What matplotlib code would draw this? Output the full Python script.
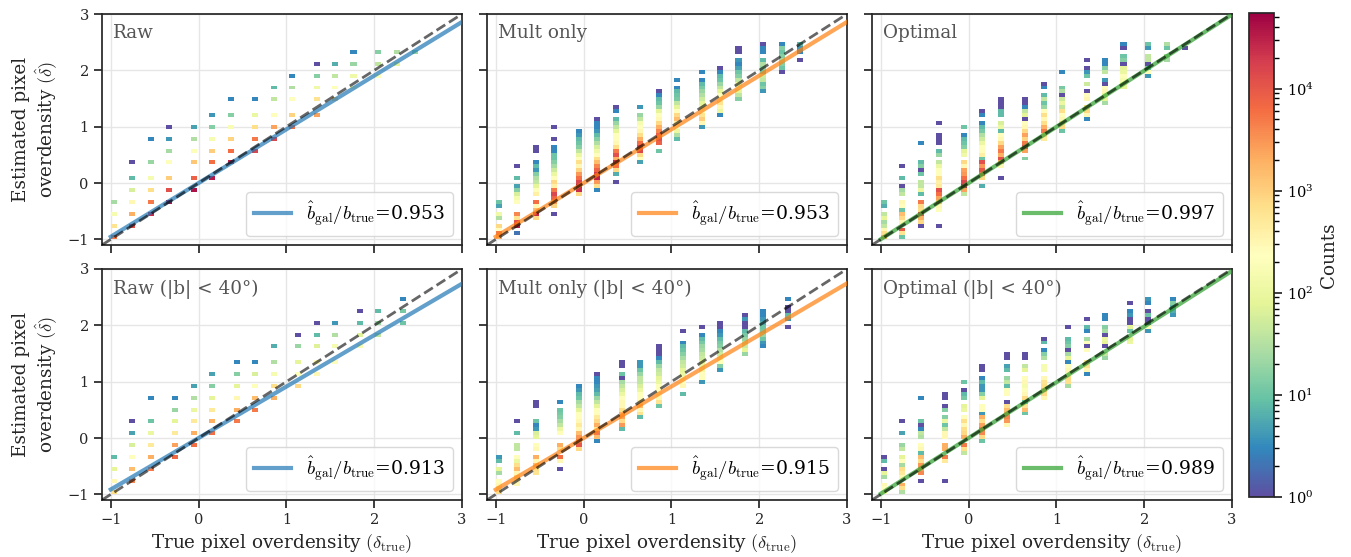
import numpy as np
import matplotlib
matplotlib.use('Agg')
import matplotlib.pyplot as plt
from matplotlib.colors import LogNorm

plt.rcParams['font.family'] = 'serif'
plt.rcParams['font.serif'] = ['DejaVu Serif']
plt.rcParams['mathtext.fontset'] = 'cm'

################### DATA ##################
# Raw panels: per column (true delta, estimated delta of each filled cell, counts)
RAW_TOP = [
    (-0.965, [-0.335, -0.545, -0.755, -0.965], [25, 150, 600, 5000]),
    (-0.755, [0.365, 0.085, -0.125, -0.335, -0.545, -0.755], [1, 8, 60, 300, 2000, 12000]),
    (-0.545, [0.785, 0.365, 0.085, -0.125, -0.335, -0.545], [3, 20, 150, 700, 5000, 25000]),
    (-0.335, [0.995, 0.785, 0.575, 0.365, 0.085, -0.125, -0.335], [1, 4, 25, 200, 1000, 12000, 40000]),
    (-0.055, [0.995, 0.785, 0.575, 0.365, 0.085, -0.125], [5, 30, 200, 1200, 8000, 40000]),
    (0.155, [1.205, 0.995, 0.785, 0.575, 0.365, 0.085], [4, 15, 150, 1000, 6000, 35000]),
    (0.365, [1.485, 1.205, 0.995, 0.785, 0.575, 0.365], [3, 15, 180, 900, 6000, 30000]),
    (0.645, [1.485, 1.205, 0.995, 0.785, 0.575], [3, 100, 700, 5000, 15000]),
    (0.855, [1.695, 1.485, 1.205, 0.995, 0.785], [8, 40, 250, 2500, 15000]),
    (1.065, [1.905, 1.695, 1.485, 1.205, 0.995], [3, 30, 200, 900, 6000]),
    (1.345, [2.115, 1.905, 1.695, 1.485, 1.205], [1, 15, 120, 600, 2500]),
    (1.555, [2.115, 1.905, 1.695, 1.485], [6, 40, 200, 900]),
    (1.765, [2.325, 2.115, 1.905, 1.695], [3, 20, 120, 250]),
    (2.045, [2.325, 2.115, 1.905], [15, 40, 200]),
    (2.255, [2.325, 2.115], [30, 80]),
    (2.465, [2.325], [20]),
]
RAW_BOT = [
    (-0.965, [-0.335, -0.545, -0.755, -0.965], [8, 80, 300, 700]),
    (-0.755, [0.295, 0.085, -0.125, -0.335, -0.545, -0.755], [1, 5, 60, 250, 1500, 4000]),
    (-0.545, [0.715, 0.295, 0.085, -0.125, -0.335, -0.545], [3, 10, 100, 500, 2000, 5000]),
    (-0.265, [0.715, 0.505, 0.295, 0.085, -0.125, -0.335], [3, 20, 80, 500, 2500, 7000]),
    (-0.055, [0.925, 0.715, 0.505, 0.295, 0.085, -0.125], [5, 30, 100, 500, 2000, 6000]),
    (0.155, [1.135, 0.925, 0.715, 0.505, 0.295, 0.085], [5, 15, 80, 500, 2000, 6000]),
    (0.435, [1.345, 1.135, 0.925, 0.715, 0.505, 0.295], [3, 15, 80, 300, 2000, 5000]),
    (0.645, [1.345, 1.135, 0.925, 0.715, 0.505], [3, 60, 200, 1500, 5000]),
    (0.855, [1.625, 1.345, 1.135, 0.925, 0.715], [6, 30, 150, 700, 2000]),
    (1.135, [1.835, 1.625, 1.345, 1.135, 0.925], [1, 20, 80, 250, 800]),
    (1.345, [2.045, 1.835, 1.625, 1.345, 1.135], [1, 8, 70, 200, 300]),
    (1.555, [2.045, 1.835, 1.625, 1.345], [4, 30, 150, 250]),
    (1.835, [2.255, 2.045, 1.835, 1.625], [1, 8, 70, 150]),
    (2.045, [2.255, 2.045, 1.835], [8, 20, 40]),
    (2.325, [2.465, 2.255, 2.045], [3, 12, 10]),
]

# Weighted panels: per column (true delta, estimated delta of top cell,
# counts of consecutive cells going downwards, 0 = empty)
MULT_TOP = [
    (-0.965, -0.335, [10, 5, 0, 120, 30, 0, 800, 250, 5000, 2000]),
    (-0.755, 0.295, [1, 0, 0, 8, 0, 5, 15, 60, 150, 250, 0, 0, 4000, 600, 12000, 30000, 0, 2]),
    (-0.545, 0.645, [1, 1, 0, 0, 3, 8, 4, 15, 30, 40, 80, 200, 400, 0, 6000, 300, 1500, 25000, 800]),
    (-0.335, 0.995, [1, 0, 0, 1, 0, 3, 3, 10, 10, 15, 25, 50, 100, 250, 800, 400, 5000, 15000, 8000, 3000, 900, 0, 1]),
    (-0.055, 0.925, [3, 4, 8, 10, 15, 40, 100, 200, 700, 300, 900, 3000, 6000, 15000, 30000, 25000, 800]),
    (0.155, 1.135, [1, 3, 3, 4, 8, 15, 30, 60, 120, 250, 700, 1500, 4000, 8000, 20000, 30000, 3000, 700, 3]),
    (0.365, 1.345, [1, 3, 0, 8, 20, 40, 80, 200, 250, 300, 700, 5000, 12000, 2000, 25000, 6000, 800, 6, 0, 1]),
    (0.645, 1.345, [4, 0, 20, 40, 150, 250, 300, 700, 2000, 6000, 15000, 15000, 800, 200, 5]),
    (0.855, 1.625, [1, 3, 8, 10, 20, 80, 200, 300, 800, 2000, 4000, 8000, 12000, 8000, 0, 10]),
    (1.065, 1.835, [3, 0, 3, 8, 10, 12, 40, 80, 250, 800, 1500, 400, 250, 100, 30, 8]),
    (1.345, 1.975, [3, 0, 3, 8, 12, 20, 30, 50, 80, 120, 250, 600, 1000, 300, 4]),
    (1.555, 2.045, [1, 3, 8, 10, 20, 40, 80, 200, 250, 600, 300, 100, 3]),
    (1.765, 2.395, [1, 1, 0, 4, 3, 5, 10, 15, 40, 100, 200, 80, 40, 15]),
    (2.045, 2.465, [1, 3, 3, 0, 8, 30, 20, 10, 50, 40, 10, 15, 4]),
    (2.255, 2.465, [3, 15, 10, 15, 25, 15, 10, 1]),
    (2.465, 2.465, [8, 4, 3, 0, 1]),
]
OPT_TOP = [
    (-0.965, -0.335, [10, 6, 0, 40, 80, 25, 40, 300, 700, 2000]),
    (-0.755, 0.295, [1, 0, 0, 8, 0, 1, 25, 40, 0, 300, 250, 10, 1500, 800, 300, 0, 10000, 600, 10]),
    (-0.545, 0.715, [3, 0, 0, 0, 0, 8, 15, 1, 10, 0, 40, 40, 100, 8, 0, 5000, 800, 700, 12000, 2000, 800, 1]),
    (-0.335, 1.065, [1, 0, 0, 1, 1, 1, 0, 8, 20, 0, 40, 100, 200, 250, 700, 400, 500, 12000, 6000, 2500,
                     1500, 300, 200, 0, 0, 0, 1]),
    (-0.055, 0.995, [10, 0, 3, 8, 10, 15, 80, 120, 0, 800, 300, 2500, 3000, 6000, 15000, 30000, 2500, 40]),
    (0.155, 1.275, [1, 3, 0, 3, 8, 12, 30, 50, 100, 200, 250, 400, 10, 12000, 3000, 10000, 5000, 800, 0, 6]),
    (0.365, 1.485, [1, 1, 1, 8, 8, 0, 60, 100, 8, 250, 300, 800, 2500, 5000, 2000, 12000, 2500, 300, 0, 0, 1]),
    (0.645, 1.485, [1, 1, 3, 40, 80, 1, 250, 300, 800, 2500, 900, 5000, 12000, 2500, 0, 15]),
    (0.855, 1.765, [1, 3, 0, 8, 40, 10, 20, 250, 700, 300, 700, 2000, 5000, 800, 500]),
    (1.065, 1.975, [3, 0, 0, 0, 12, 30, 1, 50, 100, 40, 700, 250, 300, 600, 800, 10]),
    (1.345, 2.185, [1, 0, 1, 4, 10, 0, 50, 0, 1, 250, 300, 0, 800, 800, 300, 3]),
    (1.555, 2.185, [3, 3, 15, 40, 0, 4, 1, 250, 300, 100, 80, 25]),
    (1.765, 2.465, [3, 1, 0, 10, 15, 1, 80, 100, 200, 150, 100, 80]),
    (2.045, 2.465, [10, 4, 0, 40, 40, 1, 10, 200, 4]),
    (2.255, 2.465, [30, 10, 0, 30, 25]),
    (2.465, 2.395, [1]),
]
MULT_BOT = [
    (-0.965, -0.335, [4, 8, 0, 80, 25, 0, 250, 300, 600, 800]),
    (-0.755, 0.295, [1, 0, 0, 8, 0, 0, 40, 40, 0, 250, 100, 700, 1500, 300, 700, 300, 300]),
    (-0.545, 0.645, [1, 1, 0, 0, 0, 10, 3, 4, 60, 80, 0, 250, 300, 0, 2000, 300, 1500, 700, 600]),
    (-0.265, 0.645, [3, 0, 10, 12, 15, 25, 40, 100, 250, 0, 0, 2000, 800, 0, 6000, 300, 0, 1]),
    (-0.055, 0.925, [3, 4, 8, 10, 25, 40, 80, 200, 250, 300, 500, 300, 1500, 3000, 5000, 10000, 800]),
    (0.155, 1.135, [1, 3, 3, 4, 5, 8, 20, 40, 80, 200, 250, 500, 800, 2000, 600, 5000, 1500, 3]),
    (0.435, 1.345, [1, 1, 0, 10, 1, 25, 40, 60, 100, 250, 300, 300, 700, 2000, 2500, 800, 3000, 8]),
    (0.645, 1.345, [4, 4, 10, 20, 40, 40, 60, 100, 200, 250, 400, 1500, 300, 600, 8]),
    (0.855, 1.625, [1, 1, 1, 3, 8, 20, 40, 50, 80, 100, 200, 250, 300, 300, 600, 10]),
    (1.135, 1.905, [1, 0, 0, 3, 8, 10, 15, 25, 40, 50, 80, 100, 200, 250, 300, 0, 8]),
    (1.345, 1.975, [1, 0, 3, 8, 12, 20, 25, 40, 50, 80, 100, 120, 250, 200, 4]),
    (1.555, 2.045, [1, 1, 3, 4, 8, 12, 15, 30, 50, 100, 200, 15, 4]),
    (1.835, 2.185, [1, 4, 1, 1, 8, 12, 20, 40, 50, 80, 20]),
    (2.045, 2.255, [3, 3, 4, 6, 10, 12, 20, 10, 4, 3]),
    (2.325, 2.465, [3, 0, 1, 1, 8, 4, 0, 1]),
]
OPT_BOT = [
    (-0.965, -0.335, [1, 8, 0, 1, 80, 25, 0, 300, 250, 300]),
    (-0.755, 0.295, [1, 0, 0, 5, 0, 0, 20, 40, 0, 80, 250, 25, 700, 500, 300, 0, 2000, 700, 30]),
    (-0.545, 0.715, [3, 0, 0, 0, 0, 0, 10, 1, 3, 40, 30, 0, 250, 300, 8, 1500, 700, 3000, 2500, 4000, 0, 1]),
    (-0.265, 0.785, [1, 1, 0, 1, 15, 0, 15, 100, 10, 40, 300, 300, 0, 2000, 2000, 0, 5000, 500,
                     0, 0, 0, 0, 1]),
    (-0.055, 0.995, [10, 0, 1, 8, 12, 0, 80, 100, 0, 250, 700, 300, 700, 800, 2000, 0, 5000, 700, 40]),
    (0.155, 1.275, [1, 1, 0, 3, 8, 4, 4, 15, 80, 0, 250, 250, 4, 2000, 700, 2500, 5000, 4000, 800, 10]),
    (0.435, 1.485, [1, 1, 0, 5, 8, 0, 20, 40, 8, 200, 250, 0, 1, 700, 1500, 2000, 4000, 3000, 300]),
    (0.645, 1.485, [1, 1, 0, 40, 80, 0, 250, 300, 150, 200, 300, 800, 10, 600, 1500, 10]),
    (0.855, 1.765, [1, 8, 0, 3, 15, 30, 0, 150, 150, 0, 300, 600, 700, 1500, 800, 300]),
    (1.135, 1.975, [1, 0, 0, 8, 10, 15, 1, 25, 80, 3, 250, 300, 300, 800, 700, 25]),
    (1.345, 2.115, [1, 0, 8, 3, 0, 25, 250, 1, 250, 0, 0, 500, 600, 300, 3]),
    (1.555, 2.185, [3, 3, 0, 15, 25, 1, 100, 80, 1, 0, 40, 20]),
    (1.835, 2.395, [1, 0, 3, 4, 1, 1, 80, 10, 0, 80, 100]),
    (2.045, 2.465, [4, 3, 0, 1, 10, 1, 1, 200, 4]),
    (2.325, 2.465, [3, 15, 8, 6, 4]),
]

TITLES = ['Raw', 'Mult only', 'Optimal']
SUFFIX = [r'', r' (|b| < 40°)']
SLOPES = [[0.953, 0.953, 0.997], [0.913, 0.915, 0.989]]
COLORS = ['tab:blue', 'tab:orange', 'tab:green']

################### histogram settings ##################
BIN_W = 0.07
EDGES = np.linspace(-1.0, 2.5, 51)
NORM = LogNorm(vmin=1, vmax=5.5e4)


def raw_points(cols):
    xs, ys, ws = [], [], []
    for x, yy, cc in cols:
        for y, c in zip(yy, cc):
            xs.append(x)
            ys.append(y)
            ws.append(c)
    return xs, ys, ws


def stacked_points(cols):
    xs, ys, ws = [], [], []
    for x, ytop, cc in cols:
        for i, c in enumerate(cc):
            if c > 0:
                xs.append(x)
                ys.append(ytop - i * BIN_W)
                ws.append(c)
    return xs, ys, ws


panels = [[raw_points(RAW_TOP), stacked_points(MULT_TOP), stacked_points(OPT_TOP)],
          [raw_points(RAW_BOT), stacked_points(MULT_BOT), stacked_points(OPT_BOT)]]

W, H = 1351, 557
fig = plt.figure(figsize=(W / 100, H / 100), dpi=100)

lefts = [102, 487, 872]
tops = [14, 269]
aw, ah = 360, 231

im = None
for r in range(2):
    for c in range(3):
        ax = fig.add_axes([lefts[c] / W, 1 - (tops[r] + ah) / H, aw / W, ah / H])
        xs, ys, ws = panels[r][c]
        h = ax.hist2d(xs, ys, bins=[EDGES, EDGES], weights=ws, norm=NORM,
                      cmap='Spectral_r', cmin=1, zorder=1)
        im = h[3]
        xx = np.linspace(-1.0, 3.0, 50)
        ax.plot(xx, SLOPES[r][c] * xx, color=COLORS[c], alpha=0.7, lw=3, zorder=3,
                label=r'$\hat{b}_{\rm gal}/b_{\rm true}$=' + '%.3f' % SLOPES[r][c])
        ax.plot([-1.1, 3], [-1.1, 3], ls='--', color='k', alpha=0.6, lw=2, zorder=4)
        ax.set_xlim(-1.1, 3)
        ax.set_ylim(-1.1, 3)
        ax.set_xticks([-1, 0, 1, 2, 3])
        ax.set_yticks([-1, 0, 1, 2, 3])
        ax.grid(True, color='#e6e6e6', lw=1, zorder=0)
        ax.set_axisbelow(True)
        for sp in ax.spines.values():
            sp.set_color('#262626')
            sp.set_linewidth(1.25)
        ax.tick_params(direction='out', length=6, width=1.25, color='#262626',
                       labelsize=10.5, labelcolor='#262626')
        ax.text(0.03, 0.955, TITLES[c] + SUFFIX[r], transform=ax.transAxes,
                ha='left', va='top', fontsize=13.2, color='#555555')
        ax.legend(loc='lower right', fontsize=13.5, handlelength=2.0,
                  framealpha=0.8, edgecolor='#d0d0d0', fancybox=True)
        if r == 0:
            ax.tick_params(labelbottom=False)
        else:
            ax.set_xlabel(r'True pixel overdensity $(\delta_{\rm true})$', fontsize=13.2,
                          color='#262626', labelpad=4)
        if c > 0:
            ax.tick_params(labelleft=False)
        else:
            ax.set_ylabel('Estimated pixel\noverdensity $(\\hat{\\delta})$', fontsize=13.2,
                          color='#262626', labelpad=6)

cax = fig.add_axes([1249 / W, 1 - 497 / H, 25 / W, 484 / H])
cb = fig.colorbar(im, cax=cax)
cb.set_label('Counts', fontsize=13.2, color='#262626')
cb.outline.set_edgecolor('#262626')
cb.outline.set_linewidth(1.25)
cax.tick_params(labelsize=10.5, color='#262626', width=1.25, length=6)
cax.tick_params(which='minor', width=1, length=3.5)

fig.savefig('out.png', dpi=100)
